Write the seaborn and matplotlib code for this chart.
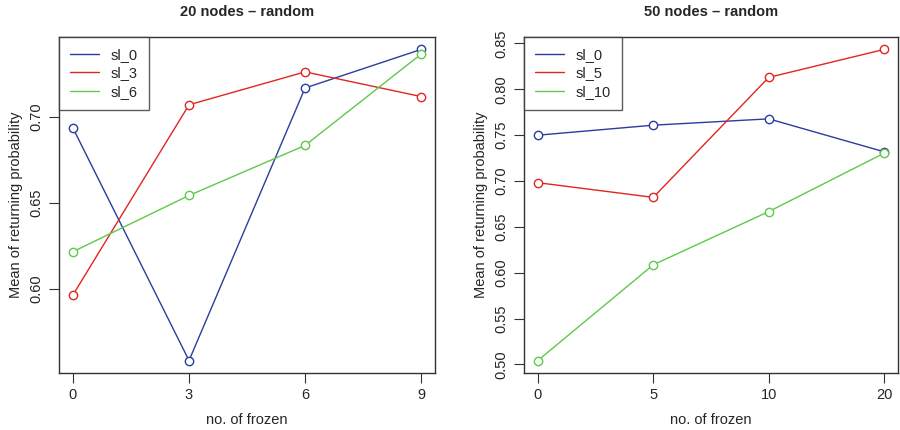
import numpy as np
import pandas as pd
import matplotlib
matplotlib.use("Agg")
import matplotlib.pyplot as plt
import seaborn as sns

sns.set_style("white")
plt.rcParams['font.family'] = ['Liberation Sans', 'DejaVu Sans']

# left panel: 20 nodes
frozen_20 = ["0", "3", "6", "9"]
sl_0_20 = [0.6936, 0.558, 0.717, 0.7395]
sl_3_20 = [0.5963, 0.7072, 0.7264, 0.712]
sl_6_20 = [0.6215, 0.6543, 0.6835, 0.7368]
labels_20 = ["sl_0", "sl_3", "sl_6"]

# right panel: 50 nodes
frozen_50 = ["0", "5", "10", "20"]
sl_0_50 = [0.75, 0.7609, 0.7678, 0.7319]
sl_5_50 = [0.6982, 0.6822, 0.813, 0.8435]
sl_10_50 = [0.5043, 0.6087, 0.6667, 0.7304]
labels_50 = ["sl_0", "sl_5", "sl_10"]

colors = ["#2b3d9e", "#e0261f", "#5ec94a"]
fs = 10.5


def long_df(frozen, series, labels):
    rows = []
    for lab, vals in zip(labels, series):
        for i, (f, v) in enumerate(zip(frozen, vals)):
            rows.append({"pos": i, "frozen": f, "value": v, "series": lab})
    return pd.DataFrame(rows)


def panel(ax, frozen, series, labels, title, yticks):
    df = long_df(frozen, series, labels)
    sns.lineplot(data=df, x="pos", y="value", hue="series", hue_order=labels,
                 palette=colors, marker="o", markersize=6, markerfacecolor="white",
                 markeredgewidth=1.0, linewidth=1.0, ax=ax, legend=False)
    for c in ax.lines:
        c.set_markeredgecolor(c.get_color())
    n = len(frozen)
    pad = (n - 1) * 0.04
    ax.set_xlim(-pad, n - 1 + pad)
    lo = min(min(s) for s in series)
    hi = max(max(s) for s in series)
    r = (hi - lo) * 0.04
    ax.set_ylim(lo - r, hi + r)
    ax.set_xticks(range(n))
    ax.set_xticklabels(frozen)
    ax.set_yticks(yticks)
    ax.set_yticklabels([f"{t:.2f}" for t in yticks], rotation=90, va="center")
    ax.tick_params(axis="both", direction="out", length=7, width=0.8,
                   color="#333333", labelsize=fs, bottom=True, left=True, pad=4)
    for s in ax.spines.values():
        s.set_color("#333333")
        s.set_linewidth(1.0)
    ax.set_title(title, fontsize=fs, fontweight="bold", pad=15)
    ax.set_xlabel("no. of frozen", fontsize=fs, labelpad=8)
    ax.set_ylabel("Mean of returning probability", fontsize=fs, labelpad=5)
    handles = [plt.Line2D([], [], color=c, lw=1.0) for c in colors]
    leg = ax.legend(handles, labels, loc="upper left", fontsize=fs,
                    frameon=True, fancybox=False, borderaxespad=0,
                    handlelength=2.0, handletextpad=0.8, borderpad=0.75,
                    labelspacing=0.3)
    leg.get_frame().set_edgecolor("#333333")
    leg.get_frame().set_linewidth(1.0)


fig = plt.figure(figsize=(9, 4.3), dpi=100)
ax1 = fig.add_axes([0.0656, 0.1326, 0.4178, 0.7814])
ax2 = fig.add_axes([0.5822, 0.1326, 0.4156, 0.7814])

panel(ax1, frozen_20, [sl_0_20, sl_3_20, sl_6_20], labels_20,
      "20 nodes \u2013 random", [0.60, 0.65, 0.70])
panel(ax2, frozen_50, [sl_0_50, sl_5_50, sl_10_50], labels_50,
      "50 nodes \u2013 random", [0.50, 0.55, 0.60, 0.65, 0.70, 0.75, 0.80, 0.85])

fig.savefig("out.png", dpi=100)
